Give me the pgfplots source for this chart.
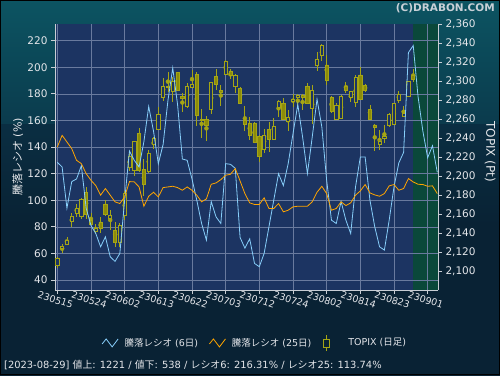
\documentclass[border=0pt]{standalone}
\usepackage{pgfplots}
\pgfplotsset{compat=1.18}
\usepackage{pgfplotstable}
\usepackage{fontspec}
\setmainfont{DejaVu Sans}
\newfontfamily\jp{Noto Sans CJK JP}
\definecolor{plotbg}{RGB}{28,52,98}
\definecolor{greenbg}{RGB}{10,72,58}
\definecolor{gridc}{RGB}{105,122,158}
\definecolor{axc}{RGB}{200,205,212}
\definecolor{txt}{RGB}{228,230,234}
\definecolor{rsix}{RGB}{135,206,250}
\definecolor{rtwf}{RGB}{255,165,0}
\definecolor{cndl}{RGB}{165,165,20}
\definecolor{cndlf}{RGB}{140,140,10}
\definecolor{bgtop}{RGB}{12,84,98}
\definecolor{bgmid}{RGB}{10,46,66}
\definecolor{bgbot}{RGB}{9,34,52}
\definecolor{cpy}{RGB}{200,208,215}

\pgfplotstableread{
i r6 r25
0 128.5 140
1 125 148.8
2 94 143.8
3 114 138.8
4 116 130
5 126 127.5
6 94 120
7 81 115
8 75 111
9 65 103.8
10 72.5 108.8
11 57.5 103.8
12 54 98.8
13 60 97.5
14 100 102.5
15 137 114
16 130 113.8
17 125 110
18 144 95.5
19 170.5 103
20 152 106
21 127.5 102.5
22 142 109.5
23 175 110
24 199.5 110.5
25 172 109.5
26 131 107.5
27 130 110
28 116 107.5
29 100 103.8
30 82.5 98.8
31 70 101
32 99 112
33 87.5 113
34 82.5 115.5
35 127.5 118.8
36 127 119.5
37 124 123.8
38 72 114.5
39 64 105
40 71 98
41 52.5 96.8
42 50 96.8
43 60 101.8
44 80 93.8
45 100 93.8
46 120 97.5
47 111 91.3
48 127.5 92.5
49 150 95
50 172 95.5
51 147.5 95.5
52 120 95.5
53 147.5 98.8
54 176 106
55 155 110.5
56 115 105
57 85 92.5
58 82.5 93.8
59 99 98.8
60 85 96
61 75 98
62 110 103.8
63 132.5 107
64 132.5 111.8
65 100 105.5
66 80 104
67 65 103
68 62.5 105
69 85 110.8
70 110 111.8
71 128 107.5
72 136 108.8
73 211 116.3
74 216.31 113.74
75 178 112
76 152 111.8
77 132 110.5
78 141 110.8
79 121 105
}\ratios

\pgfplotstableread{
i O H L C
0 2106.3 2115.1 2103.5 2114
1 2124.5 2129.1 2119.3 2127
2 2129.1 2136.1 2127.7 2133.3
3 2152.9 2162 2146.6 2158.5
4 2161.3 2171.1 2157.8 2166.5
5 2157.8 2177 2155.3 2176
6 2183.3 2188.6 2155 2160.6
7 2153.6 2162 2149 2150.1
8 2142 2150.1 2139.6 2145.5
9 2152.2 2157.8 2140.3 2145.5
10 2171.1 2175.3 2158.5 2159.9
11 2156 2164.8 2143.8 2159.5
12 2143.8 2152.5 2126.3 2130.5
13 2130.5 2151.5 2126.3 2149
14 2159.2 2185.1 2154.3 2182.3
15 2209.2 2224.2 2206 2220.7
16 2206 2237.5 2200.4 2236.5
17 2245.2 2250.5 2205 2206
18 2207.8 2217.9 2179.5 2192
19 2205 2227.7 2203.2 2224.2
20 2234 2241.7 2228.4 2240
21 2249.4 2272.5 2248.7 2265.5
22 2283 2303 2279.5 2294.9
23 2294.9 2310 2289 2293.5
24 2289 2304.7 2278.5 2299.5
25 2309.3 2310 2290 2290
26 2284.4 2287.2 2268 2282
27 2273.9 2298.4 2271.5 2294.9
28 2293.5 2311.7 2292.5 2296.7
29 2307.2 2310 2252.9 2263.8
30 2259.9 2270.4 2240 2258.5
31 2259.9 2263.4 2237.5 2253.3
32 2270.4 2299.5 2265.5 2298.8
33 2304.7 2312.4 2290.7 2296.7
34 2290.7 2296 2273.9 2288.3
35 2307.2 2322.2 2306.5 2321.2
36 2310.7 2312.4 2301.9 2305.8
37 2294.9 2307.2 2287.9 2305.8
38 2292.5 2294.2 2276 2276.7
39 2259.2 2273.9 2248 2254.7
40 2255.7 2262.7 2238.2 2243.5
41 2255.7 2257.5 2234.7 2235.4
42 2241.7 2243.5 2215.5 2220.7
43 2228.4 2249.4 2224.2 2243.5
44 2249.4 2257.5 2226 2238.9
45 2238.9 2261 2238.2 2252.2
46 2272.5 2280.2 2262.7 2279.2
47 2276.7 2282 2259.2 2260.3
48 2257.5 2269.7 2248 2262
49 2278.5 2286.5 2272.5 2280.9
50 2283 2286.5 2272.5 2285.1
51 2285.5 2286.5 2269.7 2283
52 2294.9 2298.4 2276 2276.7
53 2271.5 2296 2255 2290.7
54 2317 2331 2311 2322.9
55 2327.5 2339 2321.5 2338
56 2317 2327.5 2296 2301.2
57 2283 2284.4 2266.9 2268
58 2259.9 2276.7 2259.2 2275
59 2261 2285.5 2259.9 2284.4
60 2294.9 2299.5 2287.9 2290.7
61 2283 2290 2278.5 2289.7
62 2277.4 2306.5 2273.2 2304
63 2306.5 2314.5 2280.2 2280.9
64 2295.6 2296.7 2289 2290
65 2270.4 2275 2259.2 2260.3
66 2254 2255 2227 2251.5
67 2233.7 2248.7 2227.7 2237.2
68 2240 2253.6 2234.7 2242.4
69 2253.3 2266.2 2251.5 2265.5
70 2254.7 2277.4 2254 2276.7
71 2279.5 2289.7 2276.7 2286.5
72 2262.7 2273.9 2262 2266.2
73 2284.4 2300.5 2283 2300.2
74 2306.5 2312.4 2299.5 2302.3
}\topix

\pgfplotsset{base/.style={
  scale only axis, width=383pt, height=266pt,
  at={(55pt,85pt)}, anchor=south west,
  xmin=-0.48, xmax=79.15,
  /pgf/number format/assume math mode=true,
  tick align=outside, major tick length=4pt,
  tick style={axc, line width=0.8pt},
  axis line style={axc, line width=0.8pt},
  tick label style={txt, font=\fontsize{10.5}{12}\selectfont},
}}

\begin{document}
\begin{tikzpicture}
\useasboundingbox (0,0) rectangle (500pt,375pt);
\shade[top color=bgtop, bottom color=bgbot, middle color=bgmid] (0,0) rectangle (500pt,375pt);
\fill[bgbot] (0,0) rectangle (500pt,150pt);
\shade[top color=bgmid, bottom color=bgbot] (0,150pt) rectangle (500pt,250pt);

% Axis A: background, green zone, grid, left and x ticks
\begin{axis}[base, ymin=32.5, ymax=232.5,
  axis background/.style={fill=plotbg},
  axis on top,
  axis x line*=bottom, axis y line*=left,
  xtick={0,7,...,77},
  xticklabels={230515,230524,230602,230613,230622,230703,230712,230724,230802,230814,230823,230901},
  xticklabel style={rotate=-18, anchor=north, yshift=1pt, font=\fontsize{9.5}{11}\selectfont},
  ytick={40,60,...,220},
  grid=major, major grid style={gridc, line width=0.5pt},
  ylabel={{\jp 騰落レシオ} (\%)},
  ylabel style={txt, font=\fontsize{11}{13}\selectfont, at={(axis description cs:-0.097,0.5)}, anchor=center, rotate=0},
]
\addplot[fill=greenbg, draw=none] coordinates {(74,32.5) (79.15,32.5) (79.15,232.5) (74,232.5)} -- cycle;
\end{axis}

% Axis B: wicks + right axis
\begin{axis}[base, ymin=2080.8, ymax=2360,
  axis y line*=right, axis x line=none,
  ytick={2100,2120,...,2360},
  ylabel={TOPIX (Pt)},
  ylabel style={txt, font=\fontsize{12}{14}\selectfont, at={(axis description cs:1.136,0.52)}, anchor=center, rotate=180},
]
\addplot[cndl, only marks, mark=none, error bars/.cd, y dir=both, y explicit, error mark=none,
  error bar style={line width=0.8pt, cndl}]
  table[x=i, y expr={(\thisrow{H}+\thisrow{L})/2}, y error expr={(\thisrow{H}-\thisrow{L})/2}] {\topix};
\end{axis}

% Axis B2: candle bodies
\begin{axis}[base, ymin=2080.8, ymax=2360, hide axis, ybar stacked, bar width=3.2pt]
\addplot[draw=none, fill=none] table[x=i, y expr={min(\thisrow{O},\thisrow{C})}] {\topix};
\addplot[draw=cndl, fill=cndlf, line width=0.7pt] table[x=i, y expr={max(\thisrow{O}-\thisrow{C},0)}] {\topix};
\addplot[draw=cndl, fill=plotbg, line width=0.7pt] table[x=i, y expr={max(\thisrow{C}-\thisrow{O},0)}] {\topix};
\end{axis}

% Axis C: ratio lines + legend
\begin{axis}[base, ymin=32.5, ymax=232.5, hide axis,
  legend columns=3,
  legend style={at={(axis description cs:0.522,-0.199)}, anchor=center, draw=none, fill=none,
    text=txt, font=\fontsize{9.5}{11}\selectfont,
    /tikz/every even column/.append style={column sep=9pt},
    /tikz/every odd column/.append style={column sep=4pt}},
  legend image code/.code={\draw[#1, line width=0.8pt] (0pt,-1pt) -- (4pt,4pt) -- (10pt,-4pt) -- (16pt,4pt);},
]
\addplot[rsix, line width=0.8pt] table[x=i, y=r6] {\ratios};
\addplot[rtwf, line width=0.8pt] table[x=i, y=r25] {\ratios};
\addlegendimage{legend image code/.code={\path[draw=none] (0pt,0pt) -- (20pt,0pt); \draw[cndl, line width=0.8pt] (4.5pt,-8pt) -- (4.5pt,8pt); \draw[cndl, fill=bgbot, line width=0.8pt] (1.5pt,-4pt) rectangle (7.5pt,4pt);}}
\legend{{\jp 騰落レシオ} (6{\jp 日}), {\jp 騰落レシオ} (25{\jp 日}), TOPIX ({\jp 日足})}
\end{axis}

\node[anchor=west, txt, font=\fontsize{9.9}{12}\selectfont, inner sep=0pt] at (4pt,10pt)
  {[2023-08-29] {\jp 値上}: 1221 / {\jp 値下}: 538 / {\jp レシオ}6: 216.31\% / {\jp レシオ}25: 113.74\%};
\node[anchor=north east, cpy, font=\bfseries\fontsize{10.5}{12}\selectfont, inner sep=0pt] at (495pt,372pt) {(C)DRABON.COM};
\draw[black, line width=1pt] (0.5pt,0.5pt) rectangle (499.5pt,374.5pt);
\end{tikzpicture}
\end{document}
